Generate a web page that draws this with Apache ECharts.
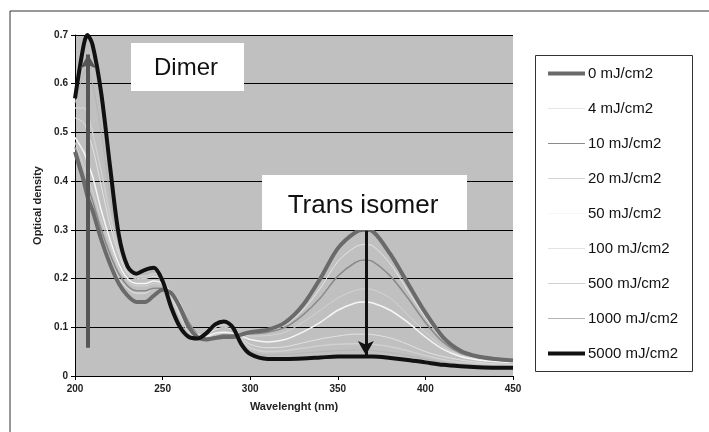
<!DOCTYPE html>
<html>
<head>
<meta charset="utf-8">
<script src="https://cdn.jsdelivr.net/npm/echarts@6/dist/echarts.min.js"></script>
<style>
  html, body { margin: 0; padding: 0; background: #fff; }
  #chart { width: 709px; height: 432px; }
</style>
</head>
<body>
<div id="chart"></div>
<script>
// wavelengths (nm) shared by every dose curve
const wavelengths = [200, 205, 207, 210, 215, 220, 225, 230, 235, 240, 245, 250, 255, 260, 265, 270, 275, 280, 285, 290, 295, 300, 310, 320, 330, 340, 350, 360, 365, 370, 380, 390, 400, 410, 420, 430, 440, 450]

const dose0    = [0.46, 0.40, 0.37, 0.34, 0.28, 0.23, 0.19, 0.165, 0.152, 0.152, 0.165, 0.177, 0.17, 0.14, 0.10, 0.08, 0.075, 0.078, 0.08, 0.08, 0.085, 0.09, 0.095, 0.11, 0.145, 0.20, 0.262, 0.295, 0.30, 0.297, 0.25, 0.19, 0.13, 0.08, 0.052, 0.04, 0.035, 0.032]
const dose4    = [0.46, 0.40, 0.38, 0.35, 0.29, 0.24, 0.20, 0.18, 0.17, 0.17, 0.18, 0.18, 0.175, 0.15, 0.11, 0.085, 0.078, 0.08, 0.082, 0.082, 0.085, 0.088, 0.092, 0.105, 0.135, 0.18, 0.235, 0.265, 0.27, 0.267, 0.23, 0.175, 0.12, 0.075, 0.05, 0.04, 0.034, 0.03]
const dose10   = [0.47, 0.41, 0.39, 0.36, 0.30, 0.25, 0.21, 0.185, 0.175, 0.175, 0.18, 0.18, 0.17, 0.145, 0.11, 0.085, 0.078, 0.08, 0.085, 0.085, 0.085, 0.086, 0.09, 0.10, 0.125, 0.16, 0.205, 0.233, 0.238, 0.235, 0.205, 0.16, 0.11, 0.07, 0.047, 0.038, 0.033, 0.03]
const dose20   = [0.48, 0.43, 0.41, 0.38, 0.32, 0.27, 0.22, 0.195, 0.185, 0.185, 0.19, 0.185, 0.17, 0.14, 0.105, 0.085, 0.08, 0.085, 0.088, 0.088, 0.085, 0.082, 0.083, 0.09, 0.11, 0.135, 0.16, 0.176, 0.179, 0.177, 0.16, 0.125, 0.09, 0.06, 0.043, 0.035, 0.03, 0.028]
const dose50   = [0.49, 0.46, 0.44, 0.41, 0.34, 0.28, 0.23, 0.20, 0.19, 0.19, 0.195, 0.19, 0.17, 0.135, 0.10, 0.085, 0.082, 0.088, 0.09, 0.088, 0.082, 0.075, 0.07, 0.075, 0.09, 0.11, 0.135, 0.15, 0.152, 0.15, 0.135, 0.11, 0.08, 0.055, 0.04, 0.033, 0.03, 0.028]
const dose100  = [0.53, 0.52, 0.50, 0.47, 0.39, 0.31, 0.25, 0.21, 0.20, 0.20, 0.205, 0.195, 0.165, 0.125, 0.095, 0.082, 0.085, 0.095, 0.10, 0.095, 0.08, 0.065, 0.058, 0.06, 0.068, 0.076, 0.082, 0.086, 0.086, 0.085, 0.078, 0.065, 0.05, 0.04, 0.033, 0.028, 0.025, 0.024]
const dose500  = [0.55, 0.55, 0.54, 0.50, 0.42, 0.33, 0.26, 0.215, 0.205, 0.205, 0.21, 0.20, 0.16, 0.12, 0.09, 0.08, 0.088, 0.10, 0.105, 0.098, 0.075, 0.058, 0.05, 0.052, 0.057, 0.062, 0.065, 0.066, 0.066, 0.065, 0.06, 0.052, 0.042, 0.034, 0.028, 0.025, 0.023, 0.022]
const dose1000 = [0.56, 0.62, 0.63, 0.60, 0.50, 0.37, 0.27, 0.22, 0.21, 0.21, 0.215, 0.195, 0.15, 0.11, 0.085, 0.078, 0.088, 0.104, 0.108, 0.10, 0.07, 0.05, 0.043, 0.044, 0.047, 0.05, 0.052, 0.053, 0.053, 0.052, 0.048, 0.042, 0.035, 0.028, 0.024, 0.021, 0.02, 0.02]
const dose5000 = [0.57, 0.68, 0.70, 0.68, 0.58, 0.43, 0.29, 0.225, 0.21, 0.218, 0.222, 0.195, 0.14, 0.10, 0.08, 0.077, 0.088, 0.106, 0.112, 0.10, 0.065, 0.045, 0.035, 0.035, 0.036, 0.038, 0.04, 0.04, 0.04, 0.04, 0.037, 0.033, 0.028, 0.023, 0.02, 0.018, 0.017, 0.017]

const doseNames = ['0 mJ/cm2', '4 mJ/cm2', '10 mJ/cm2', '20 mJ/cm2', '50 mJ/cm2', '100 mJ/cm2', '500 mJ/cm2', '1000 mJ/cm2', '5000 mJ/cm2']
const doseData = [dose0, dose4, dose10, dose20, dose50, dose100, dose500, dose1000, dose5000]
const doseColors = ['#6a6a6a', '#e6e6e6', '#8a8a8a', '#d4d4d4', '#f6f6f6', '#e2e2e2', '#d0d0d0', '#b4b4b4', '#111111']
const doseWidths = [4, 1, 1.5, 1, 1.5, 1, 1.5, 1, 4]

const xTicks = [200, 250, 300, 350, 400, 450]
const yMax = 0.7

// arrows: [wavelength, from OD, to OD]
const dimerArrow = [207.5, 0.058, 0.66]
const transArrow = [366, 0.298, 0.043]

const FONT = '"Liberation Sans", Arial, sans-serif'

const chart = echarts.init(document.getElementById('chart'))

const series = doseNames.map((name, i) => ({
  name,
  type: 'line',
  data: wavelengths.map((w, j) => [w, doseData[i][j]]),
  symbol: 'none',
  smooth: 0.3,
  lineStyle: { color: doseColors[i], width: doseWidths[i] },
  itemStyle: { color: doseColors[i] },
  z: i === 8 ? 4 : (i === 0 ? 3 : 2),
}))

// arrow overlay carried by an empty series
series.push({
  name: '__arrows',
  type: 'line',
  data: [],
  z: 6,
  markLine: {
    silent: true,
    animation: false,
    symbol: ['none', 'arrow'],
    symbolSize: [12, 14],
    label: { show: false },
    data: [
      [
        { coord: [dimerArrow[0], dimerArrow[1]], lineStyle: { color: '#555', width: 4, type: 'solid' }, itemStyle: { color: '#555' } },
        { coord: [dimerArrow[0], dimerArrow[2]] },
      ],
      [
        { coord: [transArrow[0], transArrow[1]], lineStyle: { color: '#111', width: 3, type: 'solid' }, itemStyle: { color: '#111' } },
        { coord: [transArrow[0], transArrow[2]] },
      ],
    ],
  },
})

// legend swatches: plain bars, thick for the two bold curves
const legendData = doseNames.map((name, i) => ({
  name,
  icon: doseWidths[i] >= 4 ? 'path://M0,0L37,0L37,4L0,4Z' : 'path://M0,0L37,0L37,1L0,1Z',
}))

chart.setOption({
  animation: false,
  backgroundColor: '#fff',
  textStyle: { fontFamily: FONT },
  grid: {
    left: 75, right: 196, top: 35, bottom: 56,
    show: true, backgroundColor: '#c0c0c0', borderWidth: 0,
  },
  legend: {
    data: legendData,
    orient: 'vertical',
    left: 548,
    top: 66,
    padding: 0,
    itemWidth: 37,
    itemHeight: 14,
    itemGap: 20,
    symbolKeepAspect: true,
    textStyle: { fontFamily: FONT, fontSize: 15, color: '#111', padding: [0, 0, 0, -2] },
  },
  xAxis: {
    type: 'value',
    min: xTicks[0],
    max: xTicks[xTicks.length - 1],
    interval: 50,
    name: 'Wavelenght (nm)',
    nameLocation: 'middle',
    nameGap: 25,
    nameTextStyle: { fontFamily: FONT, fontSize: 11, fontWeight: 'bold', color: '#222' },
    axisLine: { lineStyle: { color: '#000', width: 1 } },
    axisTick: { show: true, inside: false, length: 4, lineStyle: { color: '#000' } },
    axisLabel: { fontFamily: FONT, fontSize: 10, fontWeight: 'bold', color: '#222', margin: 8 },
    splitLine: { show: false },
  },
  yAxis: {
    type: 'value',
    min: 0,
    max: yMax,
    interval: 0.1,
    name: 'Optical density',
    nameLocation: 'middle',
    nameGap: 29,
    nameTextStyle: { fontFamily: FONT, fontSize: 11, fontWeight: 'bold', color: '#222' },
    axisLine: { show: true, lineStyle: { color: '#000', width: 1 } },
    axisTick: { show: true, inside: false, length: 4, lineStyle: { color: '#000' } },
    axisLabel: { fontFamily: FONT, fontSize: 10, fontWeight: 'bold', color: '#222', margin: 7 },
    splitLine: { show: true, lineStyle: { color: '#000', width: 1 } },
  },
  graphic: [
    // outer chart frame (runs off the right/bottom of the picture)
    { type: 'rect', z: -1, shape: { x: 10, y: 11, width: 740, height: 460 }, style: { fill: 'none', stroke: '#333', lineWidth: 1 } },
    // legend frame
    { type: 'rect', z: 1, shape: { x: 535.5, y: 55.5, width: 157, height: 316 }, style: { fill: 'none', stroke: '#333', lineWidth: 1 } },
    // label boxes
    { type: 'rect', z: 10, shape: { x: 131, y: 43, width: 113, height: 48 }, style: { fill: '#fff' } },
    { type: 'text', z: 11, x: 186, y: 68, style: { text: 'Dimer', font: '24px ' + FONT, fill: '#111', align: 'center', verticalAlign: 'middle' } },
    { type: 'rect', z: 10, shape: { x: 262, y: 175, width: 205, height: 55 }, style: { fill: '#fff' } },
    { type: 'text', z: 11, x: 363, y: 206, style: { text: 'Trans isomer', font: '26px ' + FONT, fill: '#111', align: 'center', verticalAlign: 'middle' } },
  ],
  series,
})
</script>
</body>
</html>
